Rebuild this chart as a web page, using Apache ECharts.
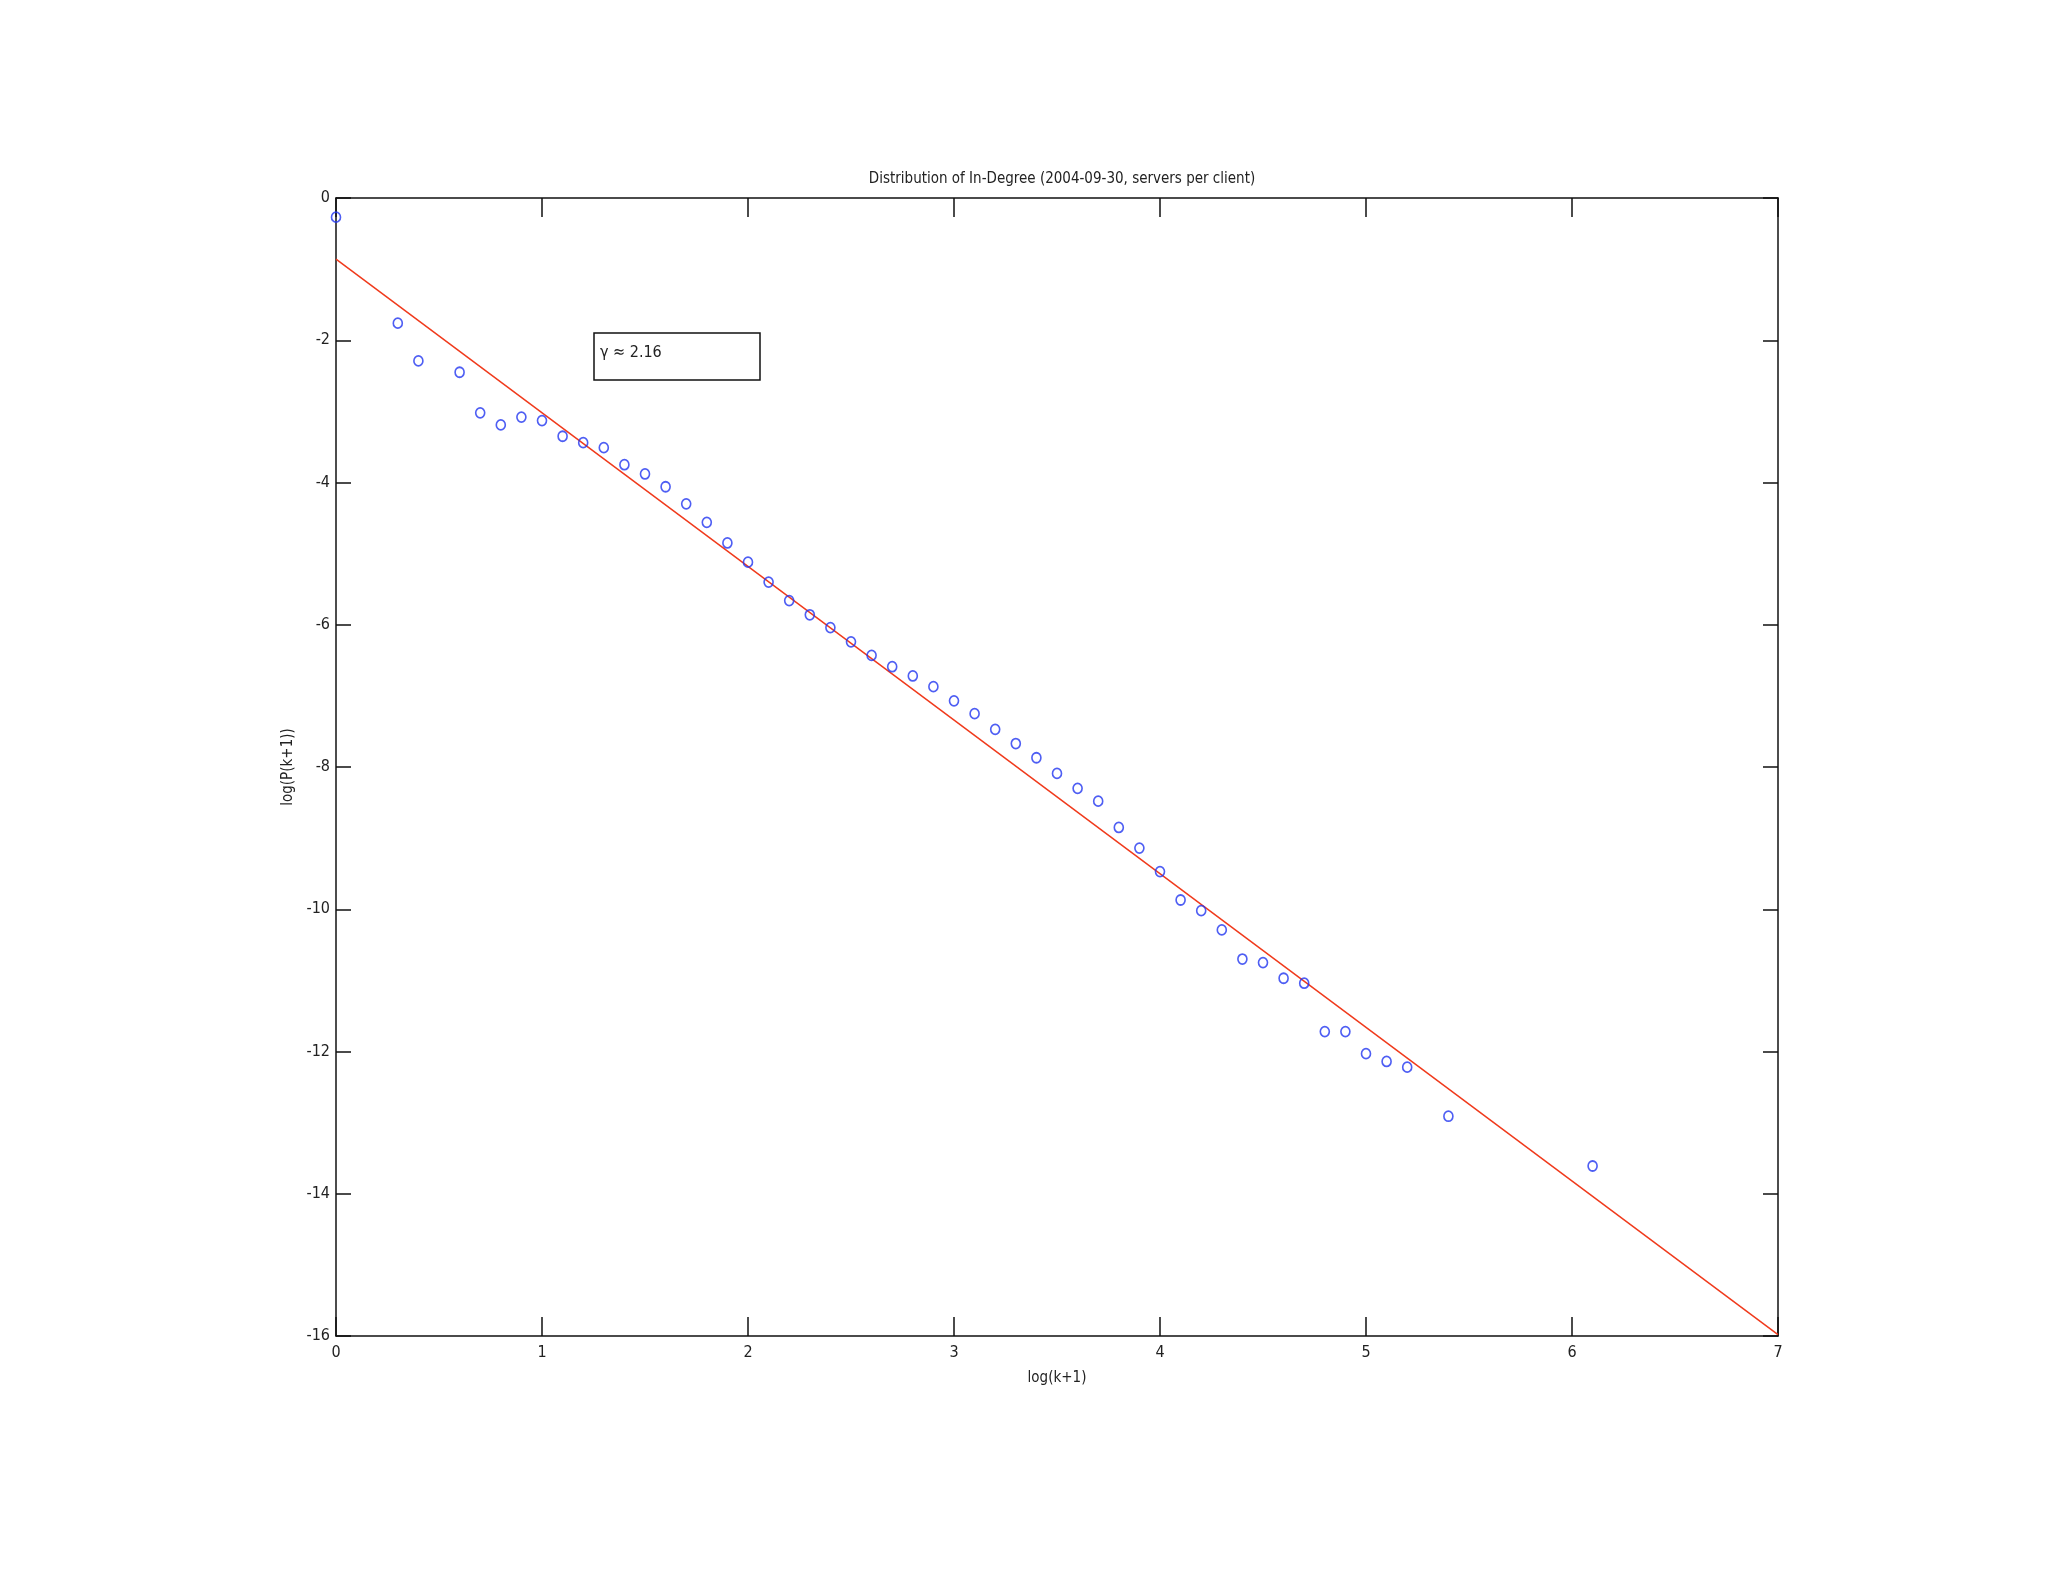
<!DOCTYPE html>
<html>
<head>
<meta charset="utf-8">
<script src="https://cdn.jsdelivr.net/npm/echarts@6/dist/echarts.min.js"></script>
<style>
html,body{margin:0;padding:0;background:#fff;}
#chart{width:2048px;height:1582px;}
</style>
</head>
<body>
<div id="chart"></div>
<script>
// ---- data ----
const xValues = [0, 0.3, 0.4, 0.6, 0.7, 0.8, 0.9, 1.0, 1.1, 1.2, 1.3, 1.4, 1.5, 1.6, 1.7, 1.8, 1.9,
  2.0, 2.1, 2.2, 2.3, 2.4, 2.5, 2.6, 2.7, 2.8, 2.9, 3.0, 3.1, 3.2, 3.3, 3.4, 3.5, 3.6, 3.7, 3.8, 3.9,
  4.0, 4.1, 4.2, 4.3, 4.4, 4.5, 4.6, 4.7, 4.8, 4.9, 5.0, 5.1, 5.2, 5.4, 6.1];
const yValues = [-0.27, -1.76, -2.29, -2.45, -3.02, -3.19, -3.08, -3.13, -3.35, -3.44, -3.51, -3.75, -3.88, -4.06, -4.30, -4.56, -4.85,
  -5.12, -5.40, -5.66, -5.86, -6.04, -6.24, -6.43, -6.59, -6.72, -6.87, -7.07, -7.25, -7.47, -7.67, -7.87, -8.09, -8.30, -8.48, -8.85, -9.14,
  -9.47, -9.87, -10.02, -10.29, -10.70, -10.75, -10.97, -11.04, -11.72, -11.72, -12.03, -12.14, -12.22, -12.91, -13.61];
const fitX = [0, 7];
const fitY = [-0.86, -15.98];
const xTicks = [0, 1, 2, 3, 4, 5, 6, 7];
const yTicks = [0, -2, -4, -6, -8, -10, -12, -14, -16];
const titleText = 'Distribution of In-Degree (2004-09-30, servers per client)';
const xName = 'log(k+1)';
const yName = 'log(P(k+1))';
const annotation = 'γ ≈ 2.16';

const FONT = "'Liberation Sans Narrow', 'DejaVu Sans Condensed', 'Arial Narrow', sans-serif";
const scatterData = xValues.map((x, i) => [x, yValues[i]]);
const fitData = fitX.map((x, i) => [x, fitY[i]]);

const chart = echarts.init(document.getElementById('chart'), null, {renderer: 'canvas'});
const axisLine = {show: true, onZero: false, lineStyle: {color: '#111', width: 1.5}};
const labelStyle = {color: '#222', fontSize: 16, fontFamily: FONT};

chart.setOption({
  backgroundColor: '#fff',
  animation: false,
  title: {
    text: titleText,
    left: 1057,
    top: 167,
    textAlign: 'center',
    textStyle: {color: '#222', fontSize: 15, fontWeight: 'normal', fontFamily: FONT}
  },
  grid: {left: 336, top: 198, width: 1442, height: 1138, containLabel: false},
  xAxis: [{
    type: 'value', min: 0, max: 7, interval: 1, position: 'bottom',
    name: xName, nameLocation: 'middle', nameGap: 35,
    nameTextStyle: {color: '#222', fontSize: 15, fontFamily: FONT},
    axisLine: axisLine,
    axisTick: {show: true, inside: true, length: 19, lineStyle: {color: '#111', width: 1.5}},
    axisLabel: Object.assign({margin: 9, formatter: v => xTicks.includes(v) ? String(v) : ''}, labelStyle),
    splitLine: {show: false}
  }, {
    type: 'value', min: 0, max: 7, interval: 1, position: 'top',
    axisLine: axisLine,
    axisTick: {show: true, inside: true, length: 19, lineStyle: {color: '#111', width: 1.5}},
    axisLabel: {show: false},
    splitLine: {show: false}
  }],
  yAxis: [{
    type: 'value', min: -16, max: 0, interval: 2, position: 'left',
    name: yName, nameLocation: 'middle', nameGap: 34, nameRotate: 90,
    nameTextStyle: {color: '#222', fontSize: 15, fontFamily: FONT},
    axisLine: axisLine,
    axisTick: {show: true, inside: true, length: 15, lineStyle: {color: '#111', width: 1.5}},
    axisLabel: Object.assign({margin: 6, formatter: v => yTicks.includes(v) ? String(v) : ''}, labelStyle),
    splitLine: {show: false}
  }, {
    type: 'value', min: -16, max: 0, interval: 2, position: 'right',
    axisLine: axisLine,
    axisTick: {show: true, inside: true, length: 15, lineStyle: {color: '#111', width: 1.5}},
    axisLabel: {show: false},
    splitLine: {show: false}
  }],
  series: [{
    type: 'line',
    data: fitData,
    showSymbol: false,
    symbol: 'none',
    lineStyle: {color: '#f03a1c', width: 1.5},
    z: 2
  }, {
    type: 'scatter',
    data: scatterData,
    symbol: 'circle',
    symbolSize: [9, 10],
    itemStyle: {color: 'rgba(0,0,0,0)', borderColor: '#2236f0', borderWidth: 1.7},
    z: 3
  }],
  graphic: [{
    type: 'rect',
    shape: {x: 594, y: 333, width: 166, height: 47},
    style: {fill: '#fff', stroke: '#111', lineWidth: 1.5},
    z: 10
  }, {
    type: 'text',
    x: 600, y: 353,
    style: {text: annotation, fill: '#222', fontSize: 16, fontFamily: FONT, verticalAlign: 'middle', align: 'left'},
    z: 11
  }]
});
</script>
</body>
</html>
